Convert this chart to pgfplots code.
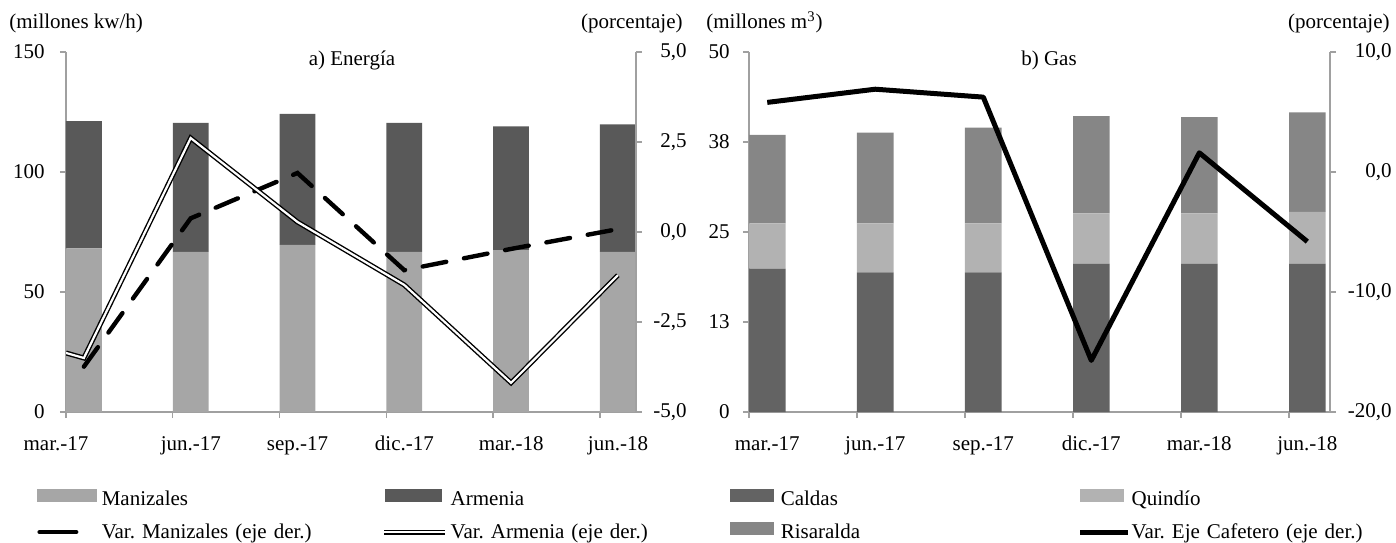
\documentclass[border=0pt]{standalone}
\usepackage{fontspec}
\setmainfont{Liberation Serif}
\usepackage{pgfplots}
\pgfplotsset{compat=1.18}
\definecolor{axgray}{HTML}{A0A0A0}
\definecolor{manz}{HTML}{A6A6A6}
\definecolor{arm}{HTML}{595959}
\definecolor{cald}{HTML}{636363}
\definecolor{quin}{HTML}{B2B2B2}
\definecolor{risa}{HTML}{868686}
\newcommand{\fs}{\fontsize{10.5}{12}\selectfont\frenchspacing}
\pgfplotsset{
  base/.style={
    scale only axis, height=180pt, anchor=south west,
    axis line style={draw=axgray, line width=0.7pt},
    tick align=outside, major tick length=3pt,
    tick style={draw=axgray, line width=0.7pt},
    tick label style={font=\fs},
  },
  leg/.style={
    legend columns=2,
    legend cell align=left,
    legend style={draw=none, fill=none, inner sep=0pt, outer sep=0pt,
      column sep=0pt, row sep=6pt, font=\fs,
      nodes={inner sep=0pt, text height=8pt, text depth=2.5pt, text width=#1, align=left},
      anchor=north west},
  },
}
\begin{document}
\fs
\begin{tikzpicture}
\useasboundingbox (0,0) rectangle (698pt,271pt);

% ---------------- Panel a) Energia ----------------
\begin{axis}[base, at={(33pt,65pt)}, width=285pt,
  xmin=-0.1675, xmax=5.17, ymin=0, ymax=150,
  axis x line*=bottom, axis y line*=left,
  xtick={-0.1675,0.8325,1.8325,2.8325,3.8325,4.8325},
  xticklabels={{\makebox[0pt]{mar.-17\hspace*{28pt}}},jun.-17,sep.-17,dic.-17,mar.-18,jun.-18},
  xticklabel style={anchor=base, inner sep=0pt, xshift=9pt, yshift=-16pt},
  ytick={0,50,100,150}, yticklabels={0,50,100,150},
  yticklabel style={anchor=east, inner sep=0pt, xshift=-7.5pt},
  ybar stacked, bar width=17.9pt]
\addplot[fill=manz, draw=none] coordinates {(0,68.2) (1,66.7) (2,69.6) (3,66.7) (4,67.5) (5,66.7)};
\addplot[fill=arm, draw=none] coordinates {(0,53.0) (1,53.8) (2,54.6) (3,53.8) (4,51.5) (5,53.1)};
\end{axis}

\begin{axis}[base, leg=140pt, at={(33pt,65pt)}, width=285pt,
  xmin=-0.1675, xmax=5.17, ymin=-5, ymax=5,
  axis x line=none, axis y line*=right,
  ytick={-5,-2.5,0,2.5,5},
  yticklabels={{-5,0},{-2,5},{0,0},{2,5},{5,0}},
  yticklabel style={anchor=east, inner sep=0pt, xshift=22.5pt},
  legend style={at={(axis description cs:-0.050877,-0.213889)}}]
\addlegendimage{legend image code/.code={\fill[manz] (0pt,-0.75pt) rectangle (29.5pt,5.25pt); \path (32pt,0pt);}}
\addlegendentry{Manizales}
\addlegendimage{legend image code/.code={\fill[arm] (0.5pt,-0.75pt) rectangle (28.5pt,5.25pt); \path (0pt,0pt) (33pt,0pt);}}
\addlegendentry{Armenia}
\addlegendimage{legend image code/.code={\draw[black, line width=2.2pt, line cap=round] (1.1pt,0.4pt) -- (19.4pt,0.4pt); \path (0pt,0pt) (32pt,0pt);}}
\addlegendentry{Var. Manizales (eje der.)}
\addlegendimage{legend image code/.code={\draw[black, line width=0.7pt, double=white, double distance=1.1pt] (0pt,0.4pt) -- (30.5pt,0.4pt); \path (33pt,0pt);}}
\addlegendentry{Var. Armenia (eje der.)}
\addplot[forget plot, black, line width=2.2pt, line cap=round, dash pattern=on 12pt off 9pt]
  coordinates {(0,-3.74) (1,0.38) (2,1.64) (3,-1.06) (4,-0.47) (5,0.08)};
\addplot[forget plot, black, line width=0.7pt, double=white, double distance=1.1pt]
  coordinates {(-0.1675,-3.36) (0,-3.5) (1,2.61) (2,0.28) (3,-1.47) (4,-4.19) (5,-1.2)};
\end{axis}

% ---------------- Panel b) Gas ----------------
\begin{axis}[base, at={(374.5pt,65pt)}, width=290.5pt,
  xmin=-0.169, xmax=5.21, ymin=0, ymax=50,
  axis x line*=bottom, axis y line*=left,
  xtick={-0.169,0.831,1.831,2.831,3.831,4.831},
  xticklabels={mar.-17,jun.-17,sep.-17,dic.-17,mar.-18,jun.-18},
  xticklabel style={anchor=base, inner sep=0pt, xshift=9.1pt, yshift=-16pt},
  ytick={0,12.5,25,37.5,50}, yticklabels={0,13,25,38,50},
  yticklabel style={anchor=east, inner sep=0pt, xshift=-6.5pt},
  ybar stacked, bar width=18.3pt]
\addplot[fill=cald, draw=none] coordinates {(0,19.9) (1,19.4) (2,19.4) (3,20.6) (4,20.6) (5,20.6)};
\addplot[fill=quin, draw=none] coordinates {(0,6.3) (1,6.8) (2,6.8) (3,7.0) (4,7.0) (5,7.2)};
\addplot[fill=risa, draw=none] coordinates {(0,12.3) (1,12.6) (2,13.3) (3,13.5) (4,13.35) (5,13.8)};
\end{axis}

\begin{axis}[base, leg=148.5pt, at={(374.5pt,65pt)}, width=290.5pt,
  xmin=-0.169, xmax=5.21, ymin=-20, ymax=10,
  axis x line=none, axis y line*=right,
  ytick={-20,-10,0,10},
  yticklabels={{-20,0},{-10,0},{0,0},{10,0}},
  yticklabel style={anchor=east, inner sep=0pt, xshift=28pt},
  legend style={at={(axis description cs:-0.0327,-0.213889)}}]
\addlegendimage{legend image code/.code={\fill[cald] (0pt,-0.75pt) rectangle (21.5pt,5.25pt); \path (25pt,0pt);}}
\addlegendentry{Caldas}
\addlegendimage{legend image code/.code={\fill[quin] (0pt,-0.75pt) rectangle (21.5pt,5.25pt); \path (25.5pt,0pt);}}
\addlegendentry{Quindío}
\addlegendimage{legend image code/.code={\fill[risa] (0pt,-0.75pt) rectangle (21.5pt,5.25pt); \path (25pt,0pt);}}
\addlegendentry{Risaralda}
\addlegendimage{legend image code/.code={\draw[black, line width=2.5pt] (0pt,0.4pt) -- (24pt,0.4pt); \path (25.5pt,0pt);}}
\addlegendentry{Var. Eje Cafetero (eje der.)}
\addplot[forget plot, black, line width=2.5pt, line join=round]
  coordinates {(0,5.8) (1,6.9) (2,6.24) (3,-15.7) (4,1.6) (5,-5.8)};
\end{axis}

% ---------------- Axis captions ----------------
\node[anchor=base west, inner sep=0pt, font=\fs] at (4.5pt,256.5pt) {(millones kw/h)};
\node[anchor=base east, inner sep=0pt, font=\fs] at (341.5pt,256.5pt) {(porcentaje)};
\node[anchor=base west, inner sep=0pt, font=\fs] at (353pt,256.5pt) {(millones m\textsuperscript{3})};
\node[anchor=base east, inner sep=0pt, font=\fs] at (695pt,256.5pt) {(porcentaje)};
\node[anchor=base, inner sep=0pt, font=\fs] at (176pt,238pt) {a) Energía};
\node[anchor=base, inner sep=0pt, font=\fs] at (524.5pt,238pt) {b) Gas};
\end{tikzpicture}
\end{document}
